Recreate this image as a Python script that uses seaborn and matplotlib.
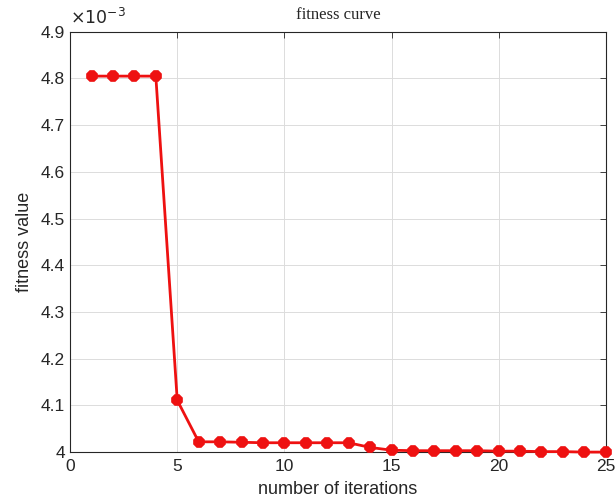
import numpy as np
import pandas as pd
import matplotlib
matplotlib.use("Agg")
import matplotlib.pyplot as plt
import seaborn as sns

# fitness per iteration, in units of 1e-3
iterations = list(range(1, 26))
fitness = [4.805, 4.805, 4.805, 4.805, 4.111, 4.022, 4.022, 4.021, 4.020, 4.020,
           4.020, 4.020, 4.020, 4.010, 4.004, 4.003, 4.003, 4.003, 4.003, 4.002,
           4.002, 4.001, 4.001, 4.000, 4.000]

x_ticks = [0, 5, 10, 15, 20, 25]
y_ticks = [4.0, 4.1, 4.2, 4.3, 4.4, 4.5, 4.6, 4.7, 4.8, 4.9]
y_tick_labels = ["4", "4.1", "4.2", "4.3", "4.4", "4.5", "4.6", "4.7", "4.8", "4.9"]

df = pd.DataFrame({"iteration": iterations, "fitness": fitness})

sns.set_style("white")
plt.rcParams["font.family"] = ["Liberation Sans", "DejaVu Sans"]

fig = plt.figure(figsize=(6.15, 5.04), dpi=100)
ax = fig.add_axes([0.114, 0.103, 0.871, 0.834])

sns.lineplot(data=df, x="iteration", y="fitness", ax=ax, color="#ee1111",
             linewidth=2, marker="8", markersize=7.5, markeredgewidth=1.2,
             markeredgecolor="#ee1111", markerfacecolor="#ee1111",
             clip_on=False, zorder=3)

ax.set_xlim(0, 25)
ax.set_ylim(4.0, 4.9)
ax.set_xticks(x_ticks)
ax.set_yticks(y_ticks)
ax.set_yticklabels(y_tick_labels)
ax.tick_params(direction="in", length=4, labelsize=12.5, colors="#262626",
               top=True, right=True, width=0.6)
ax.tick_params(axis="x", pad=5)
ax.grid(True, color="#dcdcdc", linewidth=0.7)
for s in ax.spines.values():
    s.set_color("#262626")
    s.set_linewidth(0.8)

ax.set_xlabel("number of iterations", fontsize=13, color="#262626", labelpad=5)
ax.set_ylabel("fitness value", fontsize=13, color="#262626", labelpad=6)
ax.set_title("fitness curve", fontsize=12, family="Liberation Serif", pad=9)
ax.text(0.0, 1.012, r"$\times10^{-3}$", transform=ax.transAxes, fontsize=12.5,
        ha="left", va="bottom", color="#262626")

fig.savefig("out.png", dpi=100)
